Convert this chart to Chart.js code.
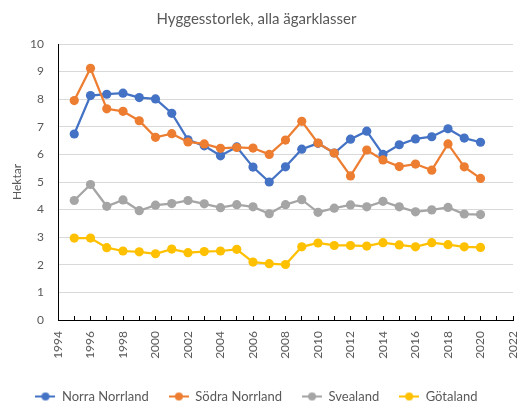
<!DOCTYPE html>
<html>
<head>
<meta charset="utf-8">
<script src="https://cdn.jsdelivr.net/npm/chart.js@4/dist/chart.umd.min.js"></script>
<style>
  body { margin: 0; background: #fff; }
</style>
</head>
<body>
<canvas id="hyggesChart" width="521" height="403"></canvas>
<script>
// data (hectares per year)
const years = [1995, 1996, 1997, 1998, 1999, 2000, 2001, 2002, 2003, 2004, 2005, 2006, 2007,
               2008, 2009, 2010, 2011, 2012, 2013, 2014, 2015, 2016, 2017, 2018, 2019, 2020];
const norraNorrland = [6.74, 8.13, 8.18, 8.22, 8.06, 8.01, 7.49, 6.53, 6.31, 5.95, 6.27, 5.54, 5.00,
                       5.55, 6.19, 6.40, 6.05, 6.55, 6.84, 6.00, 6.35, 6.56, 6.64, 6.93, 6.59, 6.44];
const sodraNorrland = [7.95, 9.12, 7.65, 7.56, 7.22, 6.62, 6.75, 6.45, 6.38, 6.22, 6.25, 6.23, 6.00,
                       6.52, 7.20, 6.41, 6.05, 5.22, 6.16, 5.80, 5.56, 5.65, 5.43, 6.38, 5.55, 5.13];
const svealand = [4.33, 4.91, 4.12, 4.35, 3.96, 4.16, 4.22, 4.33, 4.21, 4.07, 4.18, 4.10, 3.85,
                  4.18, 4.36, 3.90, 4.05, 4.17, 4.10, 4.30, 4.10, 3.92, 3.99, 4.08, 3.84, 3.82];
const gotaland = [2.97, 2.97, 2.62, 2.50, 2.47, 2.40, 2.57, 2.44, 2.48, 2.50, 2.56, 2.10, 2.04,
                  2.01, 2.65, 2.79, 2.70, 2.70, 2.68, 2.80, 2.72, 2.65, 2.80, 2.73, 2.65, 2.63];

const seriesNames = ['Norra Norrland', 'Södra Norrland', 'Svealand', 'Götaland'];
const seriesValues = [norraNorrland, sodraNorrland, svealand, gotaland];
const seriesColors = ['#4472C4', '#ED7D31', '#A5A5A5', '#FFC000'];

const textColor = '#595959';
Chart.defaults.font.family = 'Lato, "Open Sans", sans-serif';
Chart.defaults.color = textColor;

// legend marker: short line with a dot, like excel
function legendMarker(color) {
    const c = document.createElement('canvas');
    c.width = 20;
    c.height = 10;
    const g = c.getContext('2d');
    g.strokeStyle = color;
    g.lineWidth = 2;
    g.beginPath();
    g.moveTo(0, 5);
    g.lineTo(20, 5);
    g.stroke();
    g.fillStyle = color;
    g.beginPath();
    g.arc(10, 5, 4, 0, Math.PI * 2);
    g.fill();
    return c;
}
const markers = seriesColors.map(legendMarker);

const datasets = seriesNames.map((name, i) => ({
    label: name,
    data: years.map((y, j) => ({ x: y, y: seriesValues[i][j] })),
    borderColor: seriesColors[i],
    backgroundColor: seriesColors[i],
    borderWidth: 2.25,
    pointRadius: 4.6,
    pointBorderWidth: 0,
    pointHoverRadius: 4.6,
    order: seriesNames.length - i   // later series drawn on top
}));

const ctx = document.getElementById('hyggesChart').getContext('2d');
const hyggesChart = new Chart(ctx, {
    type: 'line',
    data: { datasets: datasets },
    options: {
        responsive: false,
        animation: false,
        devicePixelRatio: 1,
        layout: { padding: { left: 0, right: 8, top: 0, bottom: -10 } },
        plugins: {
            title: {
                display: true,
                text: 'Hyggesstorlek, alla ägarklasser',
                color: textColor,
                font: { size: 15, weight: 'normal' },
                padding: { top: 10, bottom: 16 }
            },
            legend: {
                position: 'bottom',
                labels: {
                    color: textColor,
                    font: { size: 13 },
                    usePointStyle: true,
                    pointStyleWidth: 20,
                    boxHeight: 10,
                    padding: 20,
                    sort: (a, b) => a.datasetIndex - b.datasetIndex,
                    generateLabels: chart => {
                        const items = Chart.defaults.plugins.legend.labels.generateLabels(chart);
                        items.forEach(it => { it.pointStyle = markers[it.datasetIndex]; });
                        return items;
                    }
                }
            },
            tooltip: { enabled: false }
        },
        scales: {
            x: {
                type: 'linear',
                min: 1994,
                max: 2022,
                afterFit: scale => {
                    scale.height = 50;
                    scale.paddingLeft = 0;
                    scale.paddingRight = 0;
                },
                ticks: {
                    stepSize: 1,
                    autoSkip: false,
                    minRotation: 90,
                    maxRotation: 90,
                    padding: 15,
                    font: { size: 12 },
                    callback: v => (v % 2 === 0 ? String(v) : '')
                },
                grid: {
                    drawOnChartArea: false,
                    drawTicks: true,
                    tickLength: -4,
                    tickColor: '#000'
                },
                border: { display: true, color: '#000', width: 1 }
            },
            y: {
                min: 0,
                max: 10,
                afterFit: scale => { scale.width = 58; },
                ticks: {
                    stepSize: 1,
                    padding: 14,
                    font: { size: 12 }
                },
                grid: { color: '#D9D9D9', drawTicks: false },
                border: { display: true, color: '#000', width: 1 },
                title: {
                    display: true,
                    text: 'Hektar',
                    color: textColor,
                    font: { size: 12 },
                    padding: { top: 10, bottom: 0 }
                }
            }
        }
    }
});
</script>
</body>
</html>
